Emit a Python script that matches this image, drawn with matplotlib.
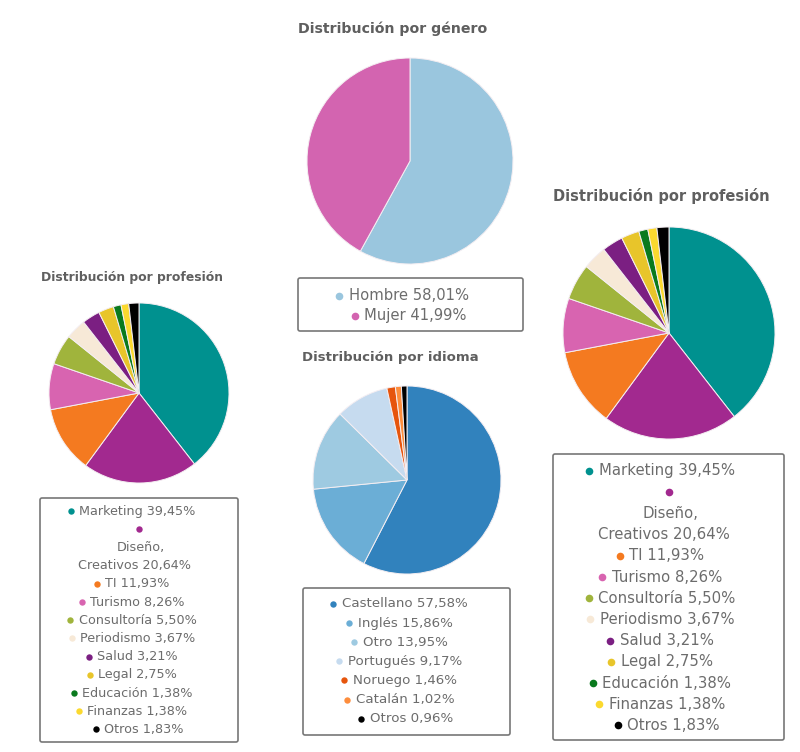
import matplotlib
matplotlib.use("Agg")
import matplotlib.pyplot as plt
from matplotlib.patches import FancyBboxPatch

# Data
genero_labels = ["Hombre", "Mujer"]
genero_values = [58.01, 41.99]
genero_text = ["58,01%", "41,99%"]
genero_colors = ["#9ac6de", "#d364b0"]

idioma_labels = ["Castellano", "Inglés", "Otro", "Portugués", "Noruego", "Catalán", "Otros"]
idioma_values = [57.58, 15.86, 13.95, 9.17, 1.46, 1.02, 0.96]
idioma_text = ["57,58%", "15,86%", "13,95%", "9,17%", "1,46%", "1,02%", "0,96%"]
idioma_colors = ["#3182bd", "#6baed6", "#9ecae1", "#c6dbef", "#e6550d", "#fd8d3c", "#000000"]

prof_labels = ["Marketing", "Diseño,\nCreativos", "TI", "Turismo", "Consultoría", "Periodismo",
               "Salud", "Legal", "Educación", "Finanzas", "Otros"]
prof_values = [39.45, 20.64, 11.93, 8.26, 5.50, 3.67, 3.21, 2.75, 1.38, 1.38, 1.83]
prof_text = ["39,45%", "20,64%", "11,93%", "8,26%", "5,50%", "3,67%", "3,21%", "2,75%", "1,38%", "1,38%", "1,83%"]
prof_colors = ["#00918f", "#a2298f", "#f47a20", "#d864b0", "#a0b43c", "#f7e9d7",
               "#7b1f82", "#e8c52a", "#0a7a1e", "#fbd92f", "#000000"]

W, H = 800, 752
TEXT = "#6c6c6c"
fig = plt.figure(figsize=(W / 100, H / 100), dpi=100)
bg = fig.add_axes([0, 0, 1, 1])
bg.set_xlim(0, W)
bg.set_ylim(H, 0)
bg.axis("off")


def pie(cx, cy, r, values, colors):
    ax = fig.add_axes([(cx - r) / W, 1 - (cy + r) / H, 2 * r / W, 2 * r / H])
    ax.pie(values, colors=colors, startangle=90, counterclock=False, radius=1,
           wedgeprops=dict(edgecolor="#f4eef2", linewidth=0.7))
    ax.set_xlim(-1, 1)
    ax.set_ylim(-1, 1)


def legend(x0, y0, x1, y1, labels, texts, colors, first_y, step, size, ms):
    bg.add_patch(FancyBboxPatch((x0, y0), x1 - x0, y1 - y0, boxstyle="round,pad=0,rounding_size=2",
                                fc="white", ec="#777777", lw=1.2))
    renderer = fig.canvas.get_renderer()
    cx = (x0 + x1) / 2
    y = first_y
    for i, (lab, txt, col) in enumerate(zip(labels, texts, colors)):
        if "\n" in lab:
            # long label wraps: dot alone on its own row
            bg.plot([cx], [y], "o", color=col, ms=ms, mec="none")
            a, b = lab.split("\n")
            y += step
            bg.text(cx + 2, y, a, ha="center", va="center", fontsize=size, color=TEXT)
            y += step
            bg.text(cx - 4.5, y, b + " " + txt, ha="center", va="center", fontsize=size, color=TEXT)
        else:
            # last row has no trailing space in the html, so it sits further right
            tx = cx + 5 if i == len(labels) - 1 else cx - 1.5
            t = bg.text(tx, y, lab + " " + txt, ha="center", va="center", fontsize=size, color=TEXT)
            w = t.get_window_extent(renderer).width
            bg.plot([tx - w / 2 - size * 0.9], [y], "o", color=col, ms=ms, mec="none")
        y += step


def title(x, y, s, size):
    bg.text(x, y, s, ha="center", va="center", fontsize=size, fontweight="bold", color="#5f5f5f")


title(393, 29, "Distribución por género", 10.2)
pie(410, 161, 103, genero_values, genero_colors)
legend(298, 278, 523, 331, genero_labels, genero_text, genero_colors, 296, 19.5, 10.6, 5.5)

title(132, 277, "Distribución por profesión", 8.9)
pie(139, 393, 90, prof_values, prof_colors)
legend(40, 498, 238, 742, prof_labels, prof_text, prof_colors, 511, 18.2, 9.2, 4.6)

title(390, 358, "Distribución por idioma", 9.5)
pie(407, 480, 94, idioma_values, idioma_colors)
legend(303, 588, 510, 735, idioma_labels, idioma_text, idioma_colors, 604, 19.1, 9.6, 4.6)

title(661, 196, "Distribución por profesión", 10.5)
pie(669, 333, 106, prof_values, prof_colors)
legend(553, 454, 784, 740, prof_labels, prof_text, prof_colors, 471, 21.2, 10.7, 5.5)

fig.savefig("out.png", dpi=100, facecolor="white")
